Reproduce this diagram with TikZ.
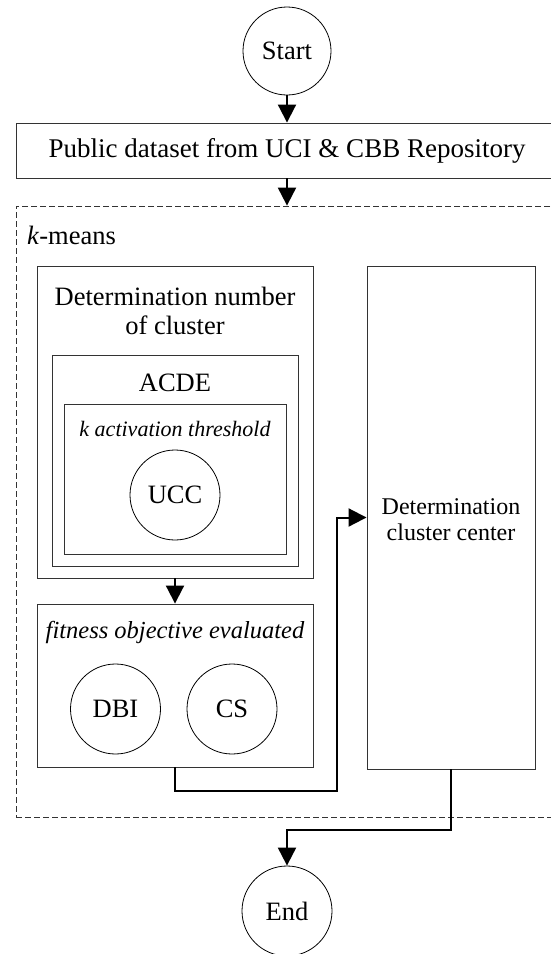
\documentclass[tikz,border=0pt]{standalone}
\usepackage{fontspec}
\setmainfont{Liberation Serif}
\usetikzlibrary{arrows.meta}
\begin{document}
\begin{tikzpicture}[x=1pt,y=-1pt,
  box/.style={draw=black!80,line width=0.9pt,rectangle,inner sep=0pt},
  dashbox/.style={draw=black!80,line width=0.8pt,dash pattern=on 6pt off 3pt,rectangle,inner sep=0pt},
  circ/.style={draw=black,line width=0.8pt,circle,inner sep=0pt},
  arr/.style={line width=2pt,-{Triangle[width=18pt,length=18pt]}},
  lbl/.style={inner sep=0pt,font=\fontsize{26.5}{30}\selectfont},
  lblsm/.style={inner sep=0pt,font=\fontsize{24}{28}\selectfont},
]
\clip (0,0) rectangle (551,954);
\fill[white] (0,0) rectangle (551,954);

% top
\node[circ,minimum size=88pt,lbl] (start) at (287,51) {Start};
\node[box,minimum width=542pt,minimum height=55pt,lbl,font=\fontsize{27}{30}\selectfont] (data) at (287,150.5) {Public dataset from UCI \& CBB Repository};

% k-means container
\node[dashbox,minimum width=542pt,minimum height=611pt] (kmeans) at (287,511.5) {};
\node[lbl,anchor=base west] (kmlabel) at (27,244) {\textit{k}-means};

% left column
\node[box,minimum width=276pt,minimum height=312pt] (detnum) at (175,422) {};
\node[lbl,anchor=base] (detnumA) at (175,305) {Determination number};
\node[lbl,anchor=base] (detnumB) at (175,334) {of cluster};

\node[box,minimum width=246pt,minimum height=211pt] (acde) at (175,460.5) {};
\node[lbl,anchor=base] (acdelabel) at (175,391) {ACDE};

\node[box,minimum width=222pt,minimum height=150pt] (kact) at (175,479) {};
\node[anchor=base,inner sep=0pt,font=\fontsize{22}{26}\selectfont\itshape] (kactlabel) at (175,436) {k activation threshold};

\node[circ,minimum size=90pt,lbl] (ucc) at (175,495) {UCC};

\node[box,minimum width=276pt,minimum height=163pt] (fit) at (175,685.5) {};
\node[anchor=base,inner sep=0pt,font=\fontsize{24.5}{28}\selectfont\itshape] (fitlabel) at (175,638) {fitness objective evaluated};
\node[circ,minimum size=90pt,lbl] (dbi) at (115.5,709) {DBI};
\node[circ,minimum size=90pt,lbl] (cs) at (232,709) {CS};

% right column
\node[box,minimum width=168pt,minimum height=503pt] (center) at (451,517.5) {};
\node[lblsm,anchor=base] (centerA) at (451,514) {Determination};
\node[lblsm,anchor=base] (centerB) at (451,540) {cluster center};

% end
\node[circ,minimum size=90pt,lbl] (end) at (287,911) {End};

\coordinate (c1) at (337,791);
\coordinate (c2) at (451,830);

% connectors
\draw[arr] (start.south) -- (data.north);
\draw[arr] (data.south) -- (kmeans.north);
\draw[arr] (detnum.south) -- (fit.north);
\draw[arr] (fit.south) |- (c1) |- (center.west);
\draw[arr] (center.south) -- (c2) -| (end.north);
\end{tikzpicture}
\end{document}
